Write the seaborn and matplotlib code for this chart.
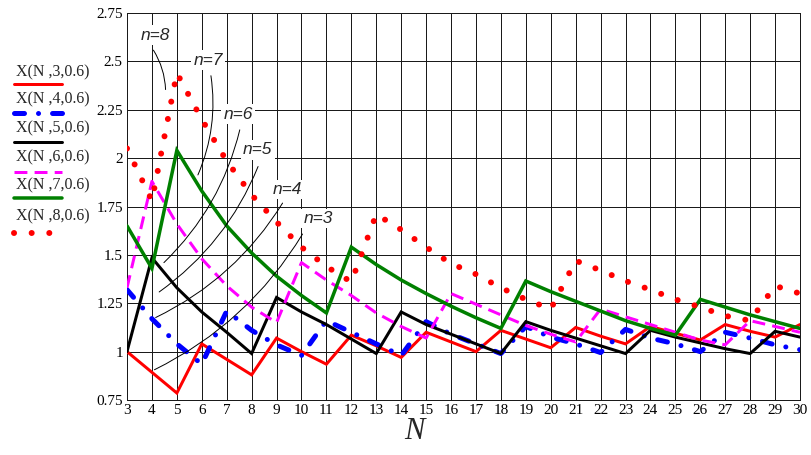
import numpy as np
import pandas as pd
import matplotlib
matplotlib.use("Agg")
import matplotlib.pyplot as plt
from matplotlib.lines import Line2D
import seaborn as sns

N = list(range(3, 31))

x3 = [1.0, 0.893, 0.786, 1.04, 0.96, 0.88, 1.07, 1.0, 0.935, 1.085, 1.03, 0.97, 1.10, 1.05,
      1.0, 1.11, 1.065, 1.02, 1.125, 1.08, 1.04, 1.13, 1.095, 1.06, 1.14, 1.105, 1.075, 1.14]
x4 = [1.32, 1.17, 1.04, 0.935, 1.21, 1.11, 1.035, 0.98, 1.16, 1.10, 1.04, 0.98, 1.155, 1.09,
      1.04, 0.99, 1.13, 1.075, 1.04, 0.995, 1.115, 1.07, 1.04, 1.0, 1.10, 1.07, 1.035, 1.01]
x5 = [1.0, 1.485, 1.33, 1.205, 1.10, 0.99, 1.28, 1.205, 1.14, 1.065, 0.99, 1.205, 1.14, 1.09,
      1.04, 0.99, 1.155, 1.11, 1.07, 1.03, 0.99, 1.11, 1.075, 1.045, 1.015, 0.99, 1.105, 1.075]
x6 = [1.33, 1.88, 1.66, 1.48, 1.34, 1.23, 1.15, 1.46, 1.37, 1.29, 1.20, 1.13, 1.07, 1.30,
      1.245, 1.19, 1.135, 1.09, 1.05, 1.22, 1.18, 1.14, 1.10, 1.06, 1.035, 1.16, 1.13, 1.10]
x7 = [1.65, 1.43, 2.04, 1.83, 1.65, 1.51, 1.39, 1.29, 1.20, 1.54, 1.45, 1.37, 1.30, 1.235,
      1.175, 1.12, 1.365, 1.31, 1.26, 1.21, 1.16, 1.12, 1.085, 1.27, 1.23, 1.19, 1.155, 1.12]
x8 = [2.05, 1.78, 2.44, 2.20, 1.985, 1.81, 1.67, 1.54, 1.44, 1.36, 1.71, 1.63, 1.54, 1.455,
      1.40, 1.33, 1.27, 1.22, 1.47, 1.42, 1.365, 1.32, 1.27, 1.23, 1.185, 1.16, 1.34, 1.30]

legend_labels = ["X(N ,3,0.6)", "X(N ,4,0.6)", "X(N ,5,0.6)",
                 "X(N ,6,0.6)", "X(N ,7,0.6)", "X(N ,8,0.6)"]
y_ticks = [0.75, 1, 1.25, 1.5, 1.75, 2, 2.25, 2.5, 2.75]
y_tick_labels = ["0.75", "1", "1.25", "1.5", "1.75", "2", "2.25", "2.5", "2.75"]
n_labels = ["n=8", "n=7", "n=6", "n=5", "n=4", "n=3"]

sns.set_theme(style="white")
plt.rcParams["font.family"] = ["Liberation Serif", "DejaVu Serif"]

W, H = 811, 455
fig = plt.figure(figsize=(W / 100, H / 100), dpi=100)
ax = fig.add_axes([127 / W, 1 - 400 / H, 673 / W, 387 / H])

px = 0.72  # points per pixel

styles = [
    dict(color="#ff0000", lw=3 * px, ls="-"),
    dict(color="#0000ff", lw=5 * px, ls=(0, (2, 2.8, 0.01, 2.8)), dash_capstyle="round"),
    dict(color="#000000", lw=3 * px, ls="-"),
    dict(color="#ff00ff", lw=3 * px, ls=(0, (4.3, 2.4))),
    dict(color="#008000", lw=3.5 * px, ls="-"),
    dict(color="#ff0000", lw=6 * px, ls=(0, (0.01, 2.93)), dash_capstyle="round"),
]
series = [x3, x4, x5, x6, x7, x8]
for vals, st in zip(series, styles):
    df = pd.DataFrame({"N": N, "X": vals})
    sns.lineplot(data=df, x="N", y="X", ax=ax, color=st["color"], linewidth=st["lw"],
                 linestyle=st["ls"], solid_joinstyle="miter", zorder=3,
                 **({"dash_capstyle": st["dash_capstyle"]} if "dash_capstyle" in st else {}))

ax.set_xlim(3, 30)
ax.set_ylim(0.75, 2.75)
ax.set_xticks(N)
ax.set_xticklabels([str(v) for v in N], fontsize=11)
ax.set_yticks(y_ticks)
ax.set_yticklabels(y_tick_labels, fontsize=11)
ax.tick_params(axis="both", length=0, pad=3, colors="#000000")
ax.grid(True, color="#1a1a1a", lw=1.0 * px, zorder=1)
ax.set_axisbelow(True)
for s in ax.spines.values():
    s.set_color("#1a1a1a")
    s.set_linewidth(1.0 * px)
ax.set_xlabel("N", fontsize=22, style="italic", labelpad=0, x=0.4265)
ax.set_ylabel("")

# n= labels with leaders (label pos, leader start/end in data coords)
label_pos = [(4.12, 2.636), (6.25, 2.507), (7.45, 2.228), (8.25, 2.042), (9.42, 1.84), (10.66, 1.69)]
leader_start = [(4.0, 2.57), (6.35, 2.44), (7.55, 2.16), (8.3, 1.97), (9.3, 1.78), (10.1, 1.62)]
leader_end = [(4.55, 2.34), (5.8, 1.9), (4.4, 1.45), (4.2, 1.3), (4.05, 1.17), (4.0, 0.9)]
for txt, lp, st, en in zip(n_labels, label_pos, leader_start, leader_end):
    ax.annotate("", xy=en, xytext=st,
                arrowprops=dict(arrowstyle="-", color="black", lw=0.7,
                                connectionstyle="arc3,rad=-0.15"), zorder=4)
    ax.text(lp[0], lp[1], txt, fontsize=12.5, style="italic", family="Liberation Sans",
            ha="center", va="center", zorder=6,
            bbox=dict(facecolor="white", edgecolor="none", pad=1.5))

# manual legend (text above sample line)
text_y = [72, 99, 128, 157, 185, 216]
line_y = [84, 113, 142, 172, 198, 233]
for lab, st, ty, ly in zip(legend_labels, styles, text_y, line_y):
    fig.text(16 / W, 1 - ty / H, lab, fontsize=11.5, ha="left", va="center")
    kw = dict(color=st["color"], lw=st["lw"], ls=st["ls"])
    if "dash_capstyle" in st:
        kw["dash_capstyle"] = st["dash_capstyle"]
    fig.add_artist(Line2D([14 / W, 62 / W], [1 - ly / H, 1 - ly / H],
                          transform=fig.transFigure, **kw))

fig.savefig("out.png", dpi=100)
